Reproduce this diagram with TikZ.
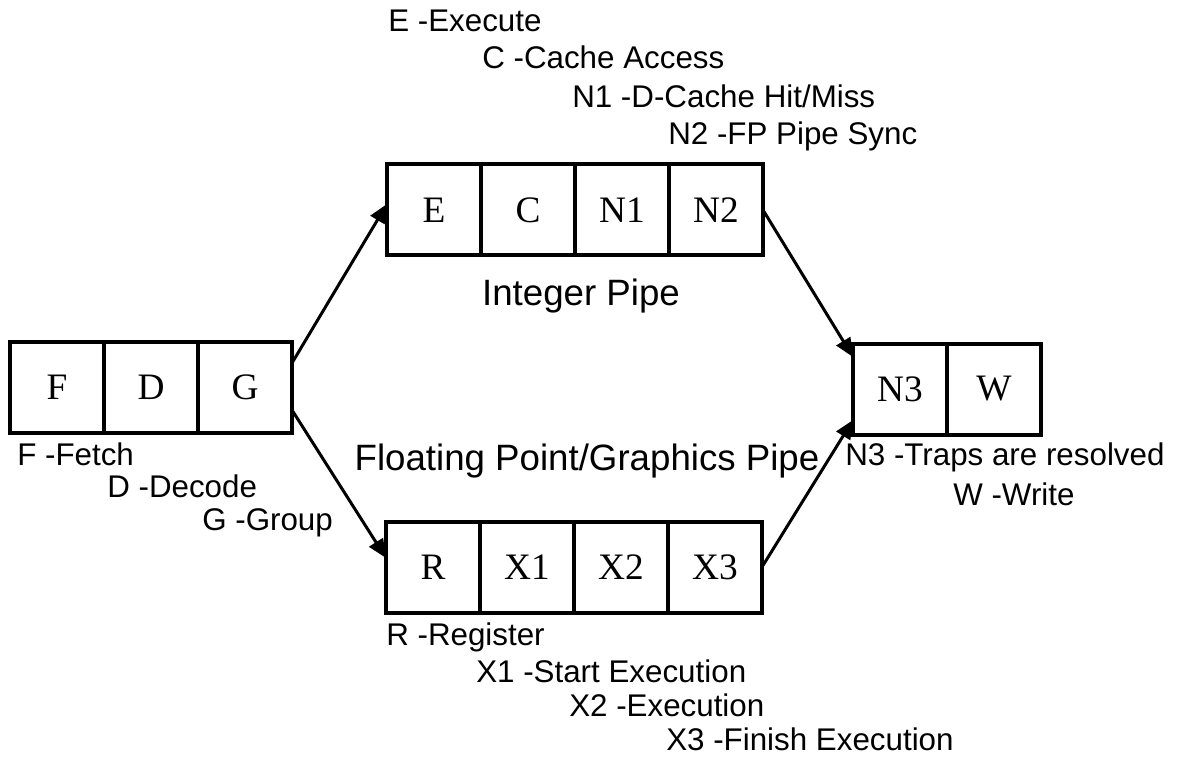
\documentclass[tikz,border=0pt]{standalone}
\usepackage{fontspec}
\setmainfont{Liberation Serif}
\setsansfont{Liberation Sans}
\usetikzlibrary{positioning,arrows.meta}
\begin{document}
\begin{tikzpicture}[x=0.75pt, y=-0.75pt, >={Triangle[length=14pt,width=12pt]},
  cell/.style={draw, line width=3pt, minimum width=70.5pt, minimum height=68.25pt,
    inner sep=0pt, outer sep=0pt, font=\fontsize{28}{32}\selectfont},
  lab/.style={anchor=base west, inner sep=0pt, font=\sffamily\fontsize{23.5}{28}\selectfont},
  pipe/.style={anchor=base, inner sep=0pt, font=\sffamily\fontsize{27.5}{32}\selectfont},
  arr/.style={->, line width=2.25pt}]
\useasboundingbox (0,0) rectangle (1177,759);
% fetch / decode / group
\node[cell] (F) at (57,387.5) {F};
\node[cell, right=0pt of F] (D) {D};
\node[cell, right=0pt of D] (G) {G};
\node[lab] (lF) at (17,465) {F -Fetch};
\node[lab] (lD) at (107,497) {D -Decode};
\node[lab] (lG) at (202,530) {G -Group};
% integer pipe
\node[cell] (E) at (434,210) {E};
\node[cell, right=0pt of E] (C) {C};
\node[cell, right=0pt of C] (N1) {N1};
\node[cell, right=0pt of N1] (N2) {N2};
\node[lab] (lE) at (388,32) {E -Execute};
\node[lab] (lC) at (482,69) {C -Cache Access};
\node[lab] (lN1) at (572,108) {N1 -D-Cache Hit/Miss};
\node[lab] (lN2) at (668,145) {N2 -FP Pipe Sync};
\node[pipe] (int) at (581,305) {Integer Pipe};
% floating point / graphics pipe
\node[cell] (R) at (433,567) {R};
\node[cell, right=0pt of R] (X1) {X1};
\node[cell, right=0pt of X1] (X2) {X2};
\node[cell, right=0pt of X2] (X3) {X3};
\node[lab] (lR) at (386,645) {R -Register};
\node[lab] (lX1) at (476,682) {X1 -Start Execution};
\node[lab] (lX2) at (569,716) {X2 -Execution};
\node[lab] (lX3) at (666,750) {X3 -Finish Execution};
\node[pipe] (fp) at (587,470) {Floating Point/Graphics Pipe};
% traps / write
\node[cell] (N3) at (900,389) {N3};
\node[cell, right=0pt of N3] (W) {W};
\node[lab] (lN3) at (845,465) {N3 -Traps are resolved};
\node[lab] (lW) at (953,505) {W -Write};
% arrows
\draw[arr] ([yshift=18.4pt]G.east) -- ([yshift=4.5pt]E.west);
\draw[arr] ([yshift=-16.9pt]G.east) -- ([yshift=6.75pt]R.west);
\draw[arr] (N2.east) -- ([yshift=24pt]N3.west);
\draw[arr] (X3.east) -- ([yshift=-23.25pt]N3.west);
\end{tikzpicture}
\end{document}
